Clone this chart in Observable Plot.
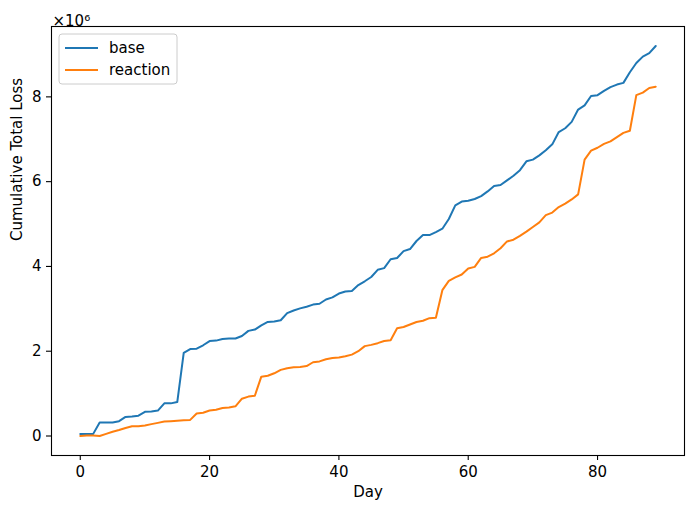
<!DOCTYPE html>
<html>
<head>
<meta charset="utf-8">
<script src="https://cdn.jsdelivr.net/npm/d3@7"></script>
<script src="https://cdn.jsdelivr.net/npm/@observablehq/plot@0.6"></script>
<style>
  html, body { margin: 0; padding: 0; background: white; }
  #chart { width: 691px; height: 507px; }
</style>
</head>
<body>
<div id="chart"></div>
<script>
// Series names and colours
const seriesNames = ["base", "reaction"];
const seriesColors = ["#1f77b4", "#ff7f0e"];

// Cumulative total loss, in millions (×10^6), days 0..89
const baseValues = [
  0.05, 0.05, 0.05, 0.32, 0.32, 0.32, 0.35, 0.45, 0.46, 0.48,
  0.57, 0.58, 0.60, 0.77, 0.77, 0.80, 1.96, 2.05, 2.06, 2.14,
  2.24, 2.25, 2.29, 2.30, 2.30, 2.36, 2.48, 2.51, 2.61, 2.69,
  2.70, 2.73, 2.90, 2.96, 3.01, 3.05, 3.10, 3.12, 3.22, 3.27,
  3.36, 3.41, 3.42, 3.56, 3.65, 3.75, 3.92, 3.96, 4.17, 4.20,
  4.36, 4.41, 4.60, 4.74, 4.74, 4.81, 4.89, 5.12, 5.44, 5.53,
  5.55, 5.59, 5.66, 5.77, 5.90, 5.92, 6.03, 6.14, 6.27, 6.48,
  6.52, 6.62, 6.74, 6.88, 7.17, 7.26, 7.41, 7.70, 7.80, 8.02,
  8.04, 8.14, 8.23, 8.29, 8.33, 8.58, 8.80, 8.95, 9.03, 9.20
];
const reactionValues = [
  0.00, 0.01, 0.01, 0.00, 0.05, 0.10, 0.14, 0.19, 0.23, 0.23,
  0.25, 0.28, 0.31, 0.34, 0.35, 0.36, 0.37, 0.38, 0.53, 0.55,
  0.60, 0.62, 0.66, 0.67, 0.70, 0.88, 0.93, 0.95, 1.40, 1.42,
  1.48, 1.56, 1.60, 1.62, 1.63, 1.65, 1.74, 1.76, 1.81, 1.84,
  1.85, 1.88, 1.92, 2.00, 2.12, 2.15, 2.19, 2.24, 2.26, 2.54,
  2.57, 2.63, 2.69, 2.72, 2.78, 2.79, 3.44, 3.66, 3.74, 3.81,
  3.95, 3.99, 4.20, 4.23, 4.31, 4.43, 4.59, 4.63, 4.72, 4.82,
  4.93, 5.04, 5.21, 5.27, 5.40, 5.48, 5.58, 5.70, 6.52, 6.73,
  6.80, 6.89, 6.95, 7.05, 7.15, 7.20, 8.04, 8.10, 8.21, 8.24
];
const days = baseValues.map((_, i) => i);

// Tick labels
const xTicks = [0, 20, 40, 60, 80];
const yTicks = [0, 2, 4, 6, 8];
const xLabel = "Day";
const yLabel = "Cumulative Total Loss";
const yMultiplier = "×10⁶";

const data = [
  ...days.map((d, i) => ({day: d, value: baseValues[i], series: seriesNames[0]})),
  ...days.map((d, i) => ({day: d, value: reactionValues[i], series: seriesNames[1]}))
];

const W = 691, H = 507;
const mL = 51, mR = 7, mT = 26, mB = 52;
const FS = 15;

// matplotlib-like 5% margins
const xMin = d3.min(days), xMax = d3.max(days);
const xPad = (xMax - xMin) * 0.05;
const yMin = d3.min(data, d => d.value), yMax = d3.max(data, d => d.value);
const yPad = (yMax - yMin) * 0.05;

const plot = Plot.plot({
  width: W, height: H,
  marginLeft: mL, marginRight: mR, marginTop: mT, marginBottom: mB,
  style: {fontFamily: "DejaVu Sans", fontSize: FS + "px", background: "white", overflow: "visible", color: "black"},
  x: {domain: [xMin - xPad, xMax + xPad]},
  y: {domain: [yMin - yPad, yMax + yPad]},
  color: {domain: seriesNames, range: seriesColors},
  marks: [
    Plot.line(data, {x: "day", y: "value", stroke: "series", strokeWidth: 2, curve: "linear"}),
    Plot.frame({stroke: "black", strokeWidth: 1.1}),
    Plot.axisX({ticks: xTicks, tickSize: 5, tickPadding: 6, label: null, fontSize: FS, stroke: "black", strokeWidth: 1.1}),
    Plot.axisY({ticks: yTicks, tickSize: 5, tickPadding: 5, label: null, fontSize: FS, stroke: "black", strokeWidth: 1.1}),
    Plot.text([xLabel], {frameAnchor: "bottom", dy: 41, fontSize: FS, fill: "black"}),
    Plot.text([yLabel], {frameAnchor: "left", dx: -34, rotate: -90, fontSize: FS, fill: "black"}),
    Plot.text([yMultiplier], {frameAnchor: "top-left", dy: -11, dx: 1, textAnchor: "start", fontSize: FS, fill: "black"})
  ]
});

document.getElementById("chart").appendChild(plot);

// matplotlib-style legend in upper-left
const svg = d3.select(plot.tagName.toLowerCase() === "svg" ? plot : plot.querySelector("svg"));
const lg = svg.append("g").attr("transform", `translate(${mL + 8},${mT + 8})`);
lg.append("rect")
  .attr("x", 0).attr("y", 0).attr("width", 118).attr("height", 50)
  .attr("rx", 3).attr("fill", "white").attr("fill-opacity", 0.8)
  .attr("stroke", "#cccccc").attr("stroke-width", 1);
seriesNames.forEach((name, i) => {
  const yy = 14 + i * 22;
  lg.append("line").attr("x1", 6).attr("x2", 39).attr("y1", yy).attr("y2", yy)
    .attr("stroke", seriesColors[i]).attr("stroke-width", 2);
  lg.append("text").attr("x", 50).attr("y", yy).attr("dy", "0.35em")
    .attr("text-anchor", "start")
    .attr("font-family", "DejaVu Sans").attr("font-size", FS).attr("fill", "black")
    .text(name);
});
</script>
</body>
</html>
